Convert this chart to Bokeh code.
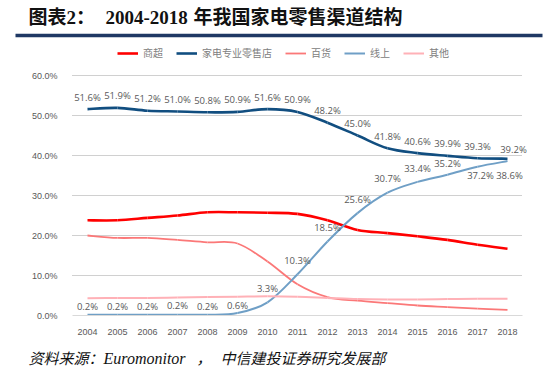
import numpy as np
from bokeh.plotting import figure
from bokeh.models import (Range1d, FixedTicker, PrintfTickFormatter, Legend, LegendItem,
                          ColumnDataSource, Label, BoxAnnotation, LinearAxis)
from bokeh.embed import file_html
from bokeh.resources import INLINE
from bokeh.core.properties import value

# ---------------- data ----------------
years = list(range(2004, 2019))
shangchao = [23.8, 23.8, 24.4, 25.0, 25.8, 25.8, 25.7, 25.4, 23.8, 21.4, 20.6, 19.8, 18.9, 17.7, 16.7]
jiadian = [51.6, 51.9, 51.2, 51.0, 50.8, 50.9, 51.6, 50.9, 48.2, 45.0, 41.8, 40.6, 39.9, 39.3, 39.2]
baihuo = [20.0, 19.4, 19.4, 18.9, 18.3, 18.0, 13.5, 7.8, 4.6, 3.7, 3.1, 2.5, 2.1, 1.7, 1.4]
xianshang = [0.2, 0.2, 0.2, 0.2, 0.2, 0.6, 3.3, 10.3, 18.5, 25.6, 30.7, 33.4, 35.2, 37.2, 38.6]
qita = [4.3, 4.4, 4.4, 4.5, 4.6, 4.7, 4.8, 4.7, 4.4, 4.1, 4.0, 4.0, 4.1, 4.2, 4.2]
series_names = ["商超", "家电专业零售店", "百货", "线上", "其他"]
y_ticks = [0, 10, 20, 30, 40, 50, 60]
title_parts = ["图表2：", "2004-2018", "年我国家电零售渠道结构"]
source_parts = ["资料来源：", "Euromonitor", "，", "中信建投证券研究发展部"]

# ---------------- styles / layout (pixels) ----------------
colors = ["#ff0000", "#114e80", "#fb7878", "#6f9fc6", "#ffb1b7"]
widths = [2.6, 2.6, 1.8, 2.0, 2.0]
CJK = "Noto Sans CJK SC"
MIXED = "'Liberation Serif', 'Noto Sans CJK SC'"
GREY = "#595959"
W, H = 554, 368
X0_PX, X_STEP_PX = 87, 30        # pixel of first year, pixels per year
Y0_PX, Y_STEP_PX = 315, 4        # pixel of 0 %, pixels per 1 %
x_lo, x_hi = years[0] - 0.5, years[-1] + 0.5
y_lo, y_hi = y_ticks[0], y_ticks[-1]


def smooth_segments(xs, ys):
    xs = np.asarray(xs, float)
    ys = np.asarray(ys, float)
    n = len(xs)
    xp = np.concatenate([[xs[0]], xs, [xs[-1]]])
    yp = np.concatenate([[ys[0]], ys, [ys[-1]]])
    d = dict(x0=[], y0=[], x1=[], y1=[], cx0=[], cy0=[], cx1=[], cy1=[])
    for i in range(n - 1):
        p0x, p0y = xp[i], yp[i]
        p1x, p1y = xp[i + 1], yp[i + 1]
        p2x, p2y = xp[i + 2], yp[i + 2]
        p3x, p3y = xp[i + 3], yp[i + 3]
        d["x0"].append(p1x); d["y0"].append(p1y)
        d["x1"].append(p2x); d["y1"].append(p2y)
        d["cx0"].append(p1x + (p2x - p0x) / 6.0); d["cy0"].append(p1y + (p2y - p0y) / 6.0)
        d["cx1"].append(p2x - (p3x - p1x) / 6.0); d["cy1"].append(p2y - (p3y - p1y) / 6.0)
    return d


xr = Range1d(years[0] - X0_PX / X_STEP_PX, years[0] + (W - X0_PX) / X_STEP_PX)
yr = Range1d(-(H - Y0_PX) / Y_STEP_PX, Y0_PX / Y_STEP_PX)
p = figure(width=W, height=H, x_range=xr, y_range=yr, output_backend="svg",
           toolbar_location=None, x_axis_type=None, y_axis_type=None, min_border=0)
p.outline_line_color = None
p.grid.visible = False

# axes drawn at fixed positions inside the canvas
yax = LinearAxis(fixed_location=x_lo, bounds=(y_lo, y_hi), ticker=FixedTicker(ticks=y_ticks),
                 formatter=PrintfTickFormatter(format="%.1f%%"))
yax.axis_line_color = None
yax.major_tick_line_color = None
yax.minor_tick_line_color = None
yax.major_label_text_color = GREY
yax.major_label_text_font = "Liberation Sans"
yax.major_label_text_font_size = "9px"
yax.major_label_standoff = 9
p.add_layout(yax, "left")

xax = LinearAxis(fixed_location=y_lo, bounds=(x_lo, x_hi), ticker=FixedTicker(ticks=years),
                 formatter=PrintfTickFormatter(format="%d"))
xax.axis_line_color = "#d9d9d9"
xax.major_tick_line_color = None
xax.minor_tick_line_color = None
xax.major_label_text_color = GREY
xax.major_label_text_font = "Liberation Sans"
xax.major_label_text_font_size = "9px"
xax.major_label_standoff = 7
p.add_layout(xax, "below")

# horizontal grid lines at the y ticks
grid_y = y_ticks[1:]
p.segment(x0=[x_lo] * len(grid_y), x1=[x_hi] * len(grid_y), y0=grid_y, y1=grid_y,
          line_color="#a0a0a0", line_dash="1 1", line_width=1)

all_series = [shangchao, jiadian, baihuo, xianshang, qita]
items = []
for name, vals, c, w in zip(series_names, all_series, colors, widths):
    src = ColumnDataSource(smooth_segments(years, vals))
    r = p.bezier(x0="x0", y0="y0", x1="x1", y1="y1", cx0="cx0", cy0="cy0", cx1="cx1", cy1="cy1",
                 source=src, line_color=c, line_width=w)
    items.append(LegendItem(label=name, renderers=[r]))

# data labels
label_style = dict(text_font=value("Open Sans"), text_font_size="9.5px", text_color=GREY,
                   text_align="center", text_baseline="middle")
jd_off = [-12] * 14 + [-9]
jd_xoff = [0] * 14 + [6]
p.text(x=years, y=jiadian, text=["%.1f%%" % v for v in jiadian], y_offset=jd_off,
       x_offset=jd_xoff, **label_style)
xs_off = [-8, -8, -8, -9, -8, -8, -14, -14, -14, -14, -14, -13, -11, 9, 14]
xs_xoff = [0] * 13 + [3, 2]
p.text(x=years, y=xianshang, text=["%.1f%%" % v for v in xianshang], y_offset=xs_off,
       x_offset=xs_xoff, **label_style)

# legend (location in px from the canvas bottom-left)
legend = Legend(items=items, orientation="horizontal", location=(117, H - 48 - 12),
                label_text_font=CJK, label_text_font_size="10px", label_text_color="#808080",
                glyph_width=21, glyph_height=10, label_standoff=5, spacing=13,
                padding=0, margin=0, border_line_color=None, background_fill_alpha=0,
                label_height=12)
p.add_layout(legend, "center")

# title
for txt, xpos in zip(title_parts, [28, 105, 193]):
    p.add_layout(Label(x=xpos, y=H - 17, x_units="screen", y_units="screen", text=txt,
                       text_font=MIXED, text_font_style="bold", text_font_size="19px",
                       text_color="#111111", text_baseline="middle", text_align="left"))

# rule under the title
p.add_layout(BoxAnnotation(left=15, right=542, bottom=H - 36.7, top=H - 33.3,
                           left_units="screen", right_units="screen",
                           bottom_units="screen", top_units="screen",
                           fill_color="#1f3864", fill_alpha=1.0, line_color=None))

# source footer
for txt, xpos, fs in zip(source_parts, [28, 103, 196, 220], ["15px", "16px", "15px", "15px"]):
    p.add_layout(Label(x=xpos, y=H - 358, x_units="screen", y_units="screen", text=txt,
                       text_font=MIXED, text_font_style="italic", text_font_size=fs,
                       text_color="#111111", text_baseline="middle", text_align="left"))

open("out.html", "w").write(file_html(p, INLINE))
